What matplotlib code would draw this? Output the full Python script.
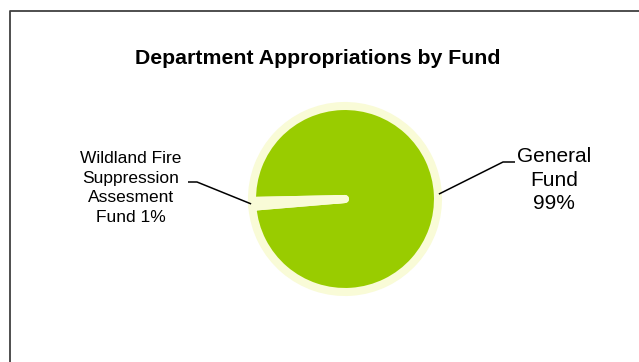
import numpy as np
import matplotlib
matplotlib.use("Agg")
import matplotlib.pyplot as plt
from matplotlib.lines import Line2D

plt.rcParams['font.family'] = ['Liberation Sans', 'DejaVu Sans']

# data
funds = ["General\nFund", "Wildland Fire\nSuppression\nAssesment\nFund"]
shares = [99, 1]
colors = ["#99CC00", "#F9FBD7"]
title = "Department Appropriations by Fund"

W, H = 639, 362
fig = plt.figure(figsize=(W / 100, H / 100), dpi=100)
ax = fig.add_axes([0, 0, 1, 1])

# chart frame (only top and left edges are inside the picture)
fig.add_artist(Line2D([9.5 / W, 9.5 / W, 1.01], [-0.01, 1 - 10.5 / H, 1 - 10.5 / H],
                      transform=fig.transFigure, color="#404040", lw=1.3))

cx, cy, r = 345, H - 199, 93
wedges, _ = ax.pie(shares, colors=colors, startangle=184.8, center=(cx, cy), radius=r,
                   wedgeprops=dict(edgecolor="#F9FBD7", linewidth=5.8, joinstyle="round"))

ax.set_xlim(0, W)
ax.set_ylim(0, H)
ax.set_aspect("equal")
ax.axis("off")

# label layout: elbow point, line end, text position, font size, spacing
layout = [
    dict(elbow=(503, H - 162), end=(515, H - 162), text=(554, H - 180), size=15, ls=1.27),
    dict(elbow=(197, H - 182), end=(188, H - 182), text=(131, H - 188), size=12.5, ls=1.4),
]

for w, name, val, lay in zip(wedges, funds, shares, layout):
    mid = np.deg2rad((w.theta1 + w.theta2) / 2)
    ax0 = cx + (r + 1) * np.cos(mid)
    ay0 = cy + (r + 1) * np.sin(mid)
    ex, ey = lay["elbow"]
    fx, fy = lay["end"]
    ax.plot([ax0, ex, fx], [ay0, ey, fy], color="black", lw=1.1, solid_capstyle="butt")
    if val >= 50:
        txt = f"{name}\n{val}%"
    else:
        txt = f"{name} {val}%"
    ax.text(lay["text"][0], lay["text"][1], txt, ha="center", va="center",
            fontsize=lay["size"], linespacing=lay["ls"], color="black")

ax.text(318, H - 58, title, ha="center", va="center", fontsize=15.3, fontweight="bold")

fig.savefig("out.png", dpi=100)
